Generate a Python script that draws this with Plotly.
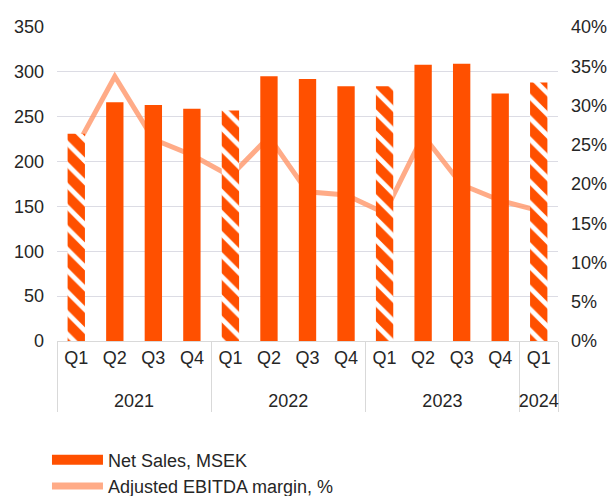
import plotly.graph_objects as go

years = ["2021"] * 4 + ["2022"] * 4 + ["2023"] * 4 + ["2024"]
quarters = ["Q1", "Q2", "Q3", "Q4"] * 3 + ["Q1"]
net_sales = [231, 266, 263, 259, 257, 295, 292, 284, 284, 308, 309, 276, 288]
ebitda_margin = [0.247, 0.337, 0.257, 0.237, 0.210, 0.260, 0.190, 0.186, 0.163, 0.262, 0.199, 0.179, 0.166]
hatched = [q == "Q1" for q in quarters]

ORANGE = "#FF5000"
SALMON = "rgba(255,150,105,0.8)"
FONT = dict(family="Liberation Sans, Arial, sans-serif", size=18, color="#262626")

# quarter labels get an extra blank line so the year row sits lower
pad_line = "<br><span style='font-size:8px'>&nbsp;</span>"
quarter_labels = [q + pad_line for q in quarters]
x_cats = [years, quarter_labels]

fig = go.Figure()

# margin line (drawn first / below bars)
fig.add_trace(go.Scatter(
    x=x_cats, y=ebitda_margin, mode="lines", yaxis="y",
    line=dict(color=SALMON, width=5), showlegend=False, hoverinfo="skip"))

fig.add_trace(go.Bar(
    x=x_cats, y=net_sales, yaxis="y2", marker_color=ORANGE,
    marker_line_width=0,
    marker_pattern=dict(shape=["\\" if h else "" for h in hatched],
                        fgcolor="white", fgopacity=1, size=15, solidity=0.32),
    showlegend=False))

# legend entries
fig.add_trace(go.Scatter(x=[None], y=[None], mode="lines", yaxis="y2",
                         line=dict(color=ORANGE, width=12),
                         name="Net Sales, MSEK"))
fig.add_trace(go.Scatter(x=[None], y=[None], mode="lines", yaxis="y",
                         line=dict(color=SALMON, width=7),
                         name="Adjusted EBITDA margin, %"))

fig.update_layout(
    width=614, height=496,
    margin=dict(l=57, r=56, t=27, b=155, autoexpand=False),
    paper_bgcolor="white", plot_bgcolor="white",
    font=FONT, bargap=0.55,
    xaxis=dict(type="multicategory", showline=True, linecolor="#d9d9d9",
               linewidth=1, showgrid=False, ticks="", showdividers=True,
               dividercolor="#d9d9d9", dividerwidth=1, tickfont=FONT),
    yaxis=dict(side="right", range=[0, 0.4], dtick=0.05, tickformat=".0%",
               showgrid=False, zeroline=False, ticklabelstandoff=12,
               tickfont=FONT),
    yaxis2=dict(overlaying="y", side="left", range=[0, 350], dtick=50,
                showgrid=True, gridcolor="#dcdce4", gridwidth=1,
                zeroline=False, ticklabelstandoff=12, tickfont=FONT),
    legend=dict(x=-0.02, y=-0.32, xanchor="left", yanchor="top",
                orientation="v", font=FONT, tracegroupgap=0, itemwidth=51,
                bgcolor="rgba(0,0,0,0)"),
    showlegend=True,
)

fig.write_html("out.html")
